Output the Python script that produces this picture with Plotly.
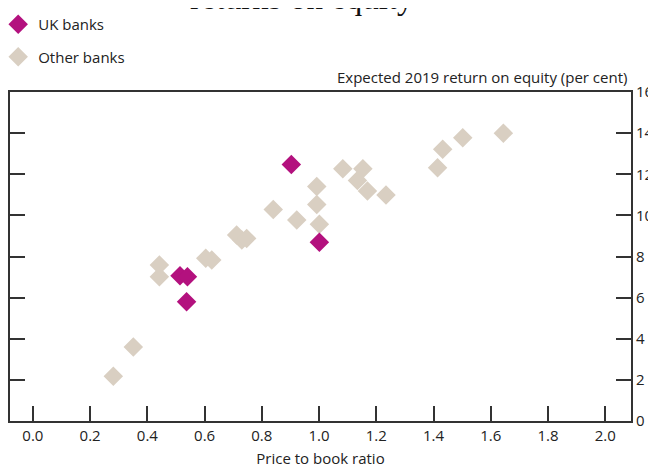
import plotly.graph_objects as go

# Price to book ratio vs expected 2019 RoE
uk_pb = [0.514, 0.540, 0.537, 0.903, 1.001]
uk_roe = [7.06, 7.02, 5.80, 12.48, 8.69]

other_pb = [0.281, 0.351, 0.442, 0.442, 0.604, 0.625, 0.712, 0.730, 0.747,
            0.840, 0.922, 0.992, 0.992, 1.001, 1.083, 1.134, 1.153, 1.169,
            1.234, 1.414, 1.432, 1.502, 1.644]
other_roe = [2.18, 3.60, 7.59, 7.02, 7.91, 7.83, 9.04, 8.80, 8.88,
             10.29, 9.77, 11.41, 10.53, 9.57, 12.27, 11.70, 12.27, 11.19,
             10.99, 12.32, 13.22, 13.77, 14.00]

x_ticks = [0.0, 0.2, 0.4, 0.6, 0.8, 1.0, 1.2, 1.4, 1.6, 1.8, 2.0]
y_ticks = [0, 2, 4, 6, 8, 10, 12, 14, 16]

UK_COLOR = "#b3117e"
OTHER_COLOR = "#d9cfc2"
FONT = "Open Sans"
TXT = "#222222"

fig = go.Figure()
fig.add_trace(go.Scatter(
    x=other_pb, y=other_roe, mode="markers", name="Other banks",
    legendgroup="b", legendrank=2,
    marker=dict(symbol="diamond", size=15, color=OTHER_COLOR),
))
fig.add_trace(go.Scatter(
    x=uk_pb, y=uk_roe, mode="markers", name="UK banks",
    legendgroup="a", legendrank=1,
    marker=dict(symbol="diamond", size=15, color=UK_COLOR),
))

axis_common = dict(
    showline=True, linecolor="#333333", linewidth=2,
    ticks="inside", ticklen=15, tickwidth=2, tickcolor="#333333",
    showgrid=False, zeroline=False, automargin=False,
    tickfont=dict(family=FONT, size=15, color=TXT),
)

fig.update_xaxes(
    range=[-0.08, 2.09], tickvals=x_ticks, tickformat=".1f",
    mirror=True,
    title=dict(text="Price to book ratio", standoff=9,
               font=dict(family=FONT, size=15, color=TXT)),
    **axis_common,
)
fig.update_yaxes(
    range=[0, 16], tickvals=y_ticks, side="right", mirror="ticks",
    **axis_common,
)

fig.add_annotation(
    text="Expected 2019 return on equity (per cent)",
    xref="paper", yref="paper", x=1, y=1, xanchor="right", yanchor="bottom",
    xshift=-2, yshift=3, showarrow=False,
    font=dict(family=FONT, size=15, color=TXT),
)
fig.add_annotation(
    text="returns on equity<sup>(a)(b)</sup>",
    xref="paper", yref="paper", x=0.512, y=1, xanchor="center", yanchor="bottom",
    yshift=74, showarrow=False,
    font=dict(family="Liberation Serif", size=33, color="#111111"),
)

# the page sits 8px in from the window's corner, so the figure is 8px smaller
fig.update_layout(
    width=648, height=460,
    margin=dict(l=2, r=25, t=84, b=47, autoexpand=False),
    plot_bgcolor="white", paper_bgcolor="white",
    showlegend=True,
    legend=dict(
        x=-0.019, y=1.255, xanchor="left", yanchor="top",
        font=dict(family=FONT, size=15, color=TXT),
        tracegroupgap=10, itemwidth=30,
        bgcolor="rgba(0,0,0,0)",
    ),
)

fig.write_html("out.html")
